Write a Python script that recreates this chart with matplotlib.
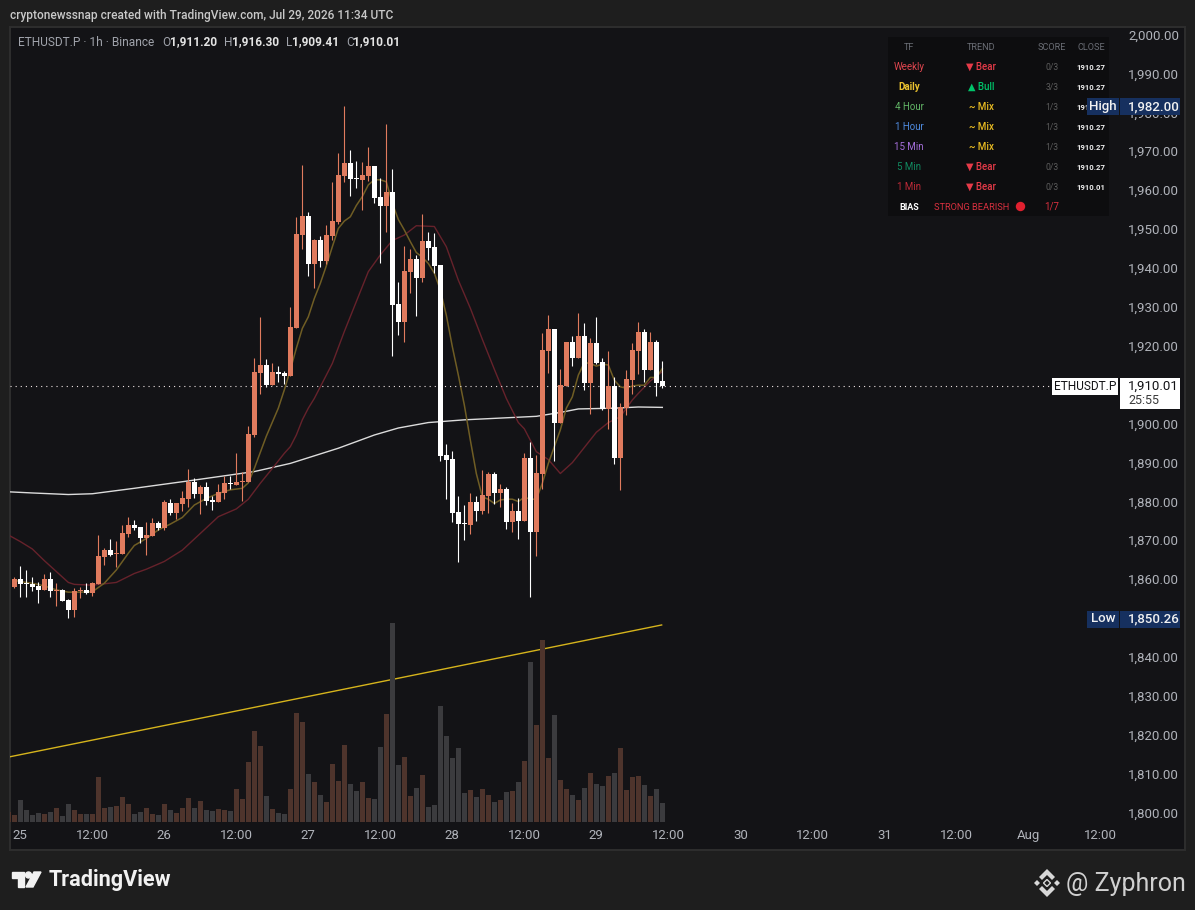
import matplotlib
matplotlib.use('Agg')
import matplotlib.pyplot as plt
from matplotlib.patches import Rectangle, Polygon, Circle
from matplotlib.transforms import ScaledTranslation

plt.rcParams['font.family'] = ['Roboto', 'DejaVu Sans']

# 1h candles
opens = [1858.2, 1860.3, 1859.3, 1859.0, 1858.5, 1857.5, 1860.3, 1857.2, 1857.5, 1854.9,
         1852.3, 1857.2, 1857.5, 1856.7, 1859.0, 1865.9, 1867.7, 1866.7, 1866.7, 1871.9,
         1874.2, 1873.7, 1870.8, 1871.3, 1874.7, 1873.4, 1879.8, 1877.3, 1879.6, 1880.9,
         1885.2, 1882.1, 1883.9, 1880.6, 1880.1, 1882.4, 1885.0, 1884.4, 1885.2, 1885.2,
         1897.3, 1913.2, 1915.3, 1910.2, 1913.5, 1913.2, 1912.5, 1924.8, 1948.7, 1953.6,
         1941.3, 1947.4, 1942.0, 1948.4, 1952.1, 1963.9, 1967.2, 1963.4, 1962.9, 1963.9,
         1966.5, 1958.5, 1956.2, 1959.8, 1931.0, 1926.4, 1939.2, 1942.6, 1937.7, 1947.2,
         1945.6, 1941.0, 1892.2, 1891.1, 1877.5, 1874.7, 1874.2, 1880.1, 1877.8, 1881.6,
         1887.3, 1882.4, 1883.4, 1874.9, 1877.8, 1875.2, 1891.4, 1872.4, 1887.3, 1918.9,
         1924.5, 1900.4, 1909.9, 1921.2, 1917.1, 1922.7, 1910.7, 1921.0, 1916.1, 1904.0,
         1909.9, 1891.4, 1904.2, 1911.4, 1918.9, 1923.8, 1914.0, 1921.2, 1911.20]
highs = [1860.8, 1863.6, 1862.6, 1860.8, 1859.5, 1861.6, 1862.1, 1859.3, 1857.7, 1855.1,
         1858.0, 1858.2, 1859.3, 1859.5, 1871.6, 1868.3, 1870.6, 1870.1, 1874.2, 1876.2,
         1875.5, 1873.7, 1874.9, 1876.0, 1875.2, 1880.6, 1880.9, 1879.8, 1882.9, 1888.6,
         1886.2, 1884.4, 1885.2, 1881.6, 1884.7, 1886.8, 1886.8, 1892.7, 1887.8, 1899.6,
         1917.1, 1927.6, 1916.8, 1915.8, 1915.0, 1913.8, 1930.2, 1953.3, 1966.7, 1954.6,
         1947.7, 1948.5, 1951.3, 1962.3, 1969.8, 1982.0, 1970.6, 1967.7, 1967.5, 1971.3,
         1966.5, 1963.4, 1977.2, 1965.7, 1936.6, 1945.9, 1945.1, 1943.6, 1954.1, 1949.5,
         1949.2, 1941.0, 1895.0, 1893.2, 1881.6, 1879.3, 1882.4, 1881.6, 1888.3, 1887.8,
         1887.8, 1884.7, 1883.9, 1879.8, 1881.1, 1892.7, 1895.5, 1892.2, 1923.5, 1928.1,
         1924.5, 1914.3, 1921.2, 1922.7, 1928.7, 1926.1, 1922.2, 1927.6, 1917.1, 1918.9,
         1912.2, 1905.5, 1914.0, 1921.0, 1926.3, 1924.5, 1923.8, 1921.7, 1916.30]
lows = [1858.0, 1855.7, 1855.7, 1857.2, 1854.1, 1857.5, 1855.7, 1853.3, 1854.6, 1850.26,
        1850.5, 1855.4, 1856.4, 1856.0, 1859.0, 1863.9, 1866.2, 1863.4, 1866.7, 1871.1,
        1872.9, 1869.5, 1866.5, 1871.3, 1872.9, 1872.9, 1876.7, 1875.7, 1877.8, 1878.8,
        1881.1, 1877.0, 1879.3, 1878.0, 1880.1, 1880.9, 1883.4, 1884.4, 1880.3, 1885.2,
        1896.9, 1907.8, 1909.6, 1910.2, 1910.9, 1910.4, 1912.5, 1924.8, 1945.1, 1938.2,
        1935.1, 1940.5, 1941.3, 1947.4, 1951.5, 1962.3, 1958.7, 1960.8, 1955.1, 1962.6,
        1956.9, 1941.5, 1949.5, 1917.6, 1923.0, 1921.2, 1933.8, 1927.9, 1936.6, 1942.3,
        1938.9, 1890.6, 1880.8, 1874.9, 1864.6, 1870.3, 1871.8, 1875.2, 1877.0, 1877.2,
        1879.6, 1878.8, 1873.1, 1872.4, 1870.6, 1875.2, 1855.6, 1866.2, 1883.4, 1913.2,
        1890.6, 1900.4, 1909.9, 1915.0, 1917.1, 1908.9, 1902.7, 1915.5, 1903.7, 1898.8,
        1889.8, 1883.2, 1902.4, 1907.8, 1913.0, 1910.9, 1914.0, 1907.3, 1909.41]
closes = [1860.3, 1859.0, 1859.0, 1858.2, 1857.5, 1860.3, 1857.2, 1857.5, 1854.6, 1852.3,
          1857.2, 1857.5, 1856.6, 1859.3, 1866.2, 1867.7, 1866.5, 1867.0, 1872.1, 1874.2,
          1873.4, 1870.8, 1871.6, 1874.7, 1873.4, 1880.1, 1877.3, 1879.8, 1881.1, 1885.2,
          1882.1, 1883.9, 1880.3, 1880.2, 1882.6, 1885.0, 1884.7, 1885.2, 1885.5, 1897.6,
          1913.5, 1915.3, 1910.2, 1913.5, 1913.0, 1912.5, 1925.1, 1949.0, 1953.6, 1941.3,
          1947.4, 1942.0, 1948.7, 1952.3, 1964.1, 1967.2, 1963.1, 1963.1, 1964.1, 1966.5,
          1958.2, 1956.2, 1959.8, 1930.7, 1926.4, 1939.5, 1942.6, 1937.7, 1947.2, 1945.4,
          1940.8, 1891.9, 1890.9, 1877.2, 1874.4, 1874.4, 1880.1, 1877.8, 1881.9, 1887.3,
          1882.4, 1883.4, 1874.9, 1877.8, 1875.2, 1891.4, 1872.4, 1887.5, 1919.1, 1924.5,
          1900.4, 1910.2, 1921.2, 1917.1, 1922.7, 1910.7, 1921.0, 1915.8, 1904.0, 1909.9,
          1891.4, 1904.5, 1911.7, 1919.1, 1923.8, 1914.0, 1921.2, 1910.7, 1910.01]
volumes = [20, 65, 35, 20, 26, 23, 29, 41, 17, 53,
           35, 23, 23, 23, 134, 41, 44, 47, 74, 53,
           23, 29, 41, 23, 20, 53, 35, 26, 41, 71,
           41, 62, 35, 32, 38, 35, 32, 98, 68, 179,
           272, 227, 77, 38, 26, 23, 98, 326, 299, 143,
           119, 80, 59, 173, 122, 230, 113, 92, 119, 71,
           68, 224, 323, 596, 170, 194, 77, 101, 140, 44,
           50, 347, 257, 191, 221, 86, 95, 74, 98, 80,
           59, 65, 89, 92, 119, 182, 479, 290, 545, 191,
           320, 125, 98, 80, 65, 101, 146, 113, 107, 137,
           146, 221, 95, 134, 137, 110, 77, 98, 56]
prev_volume = 30

# moving averages, points (bar index, price)
fast_idx = [0, 1, 3, 5, 7, 9, 11, 13, 15, 17, 19, 20, 22, 24, 26, 28, 30, 32, 34, 36, 38, 39, 40, 42, 44,
            45, 46, 47, 48, 49, 50, 51, 52, 53, 54, 55, 56, 57, 58, 59, 60, 61, 62, 63, 64, 65, 66, 67, 68, 69, 70, 71,
            72, 73, 74, 75, 76, 77, 78, 79, 80, 81, 82, 83, 84, 85, 86, 87, 88, 89, 90, 91, 92, 93, 94, 95, 96, 97,
            98, 99, 100, 101, 102, 103, 104, 105, 106, 107, 108]
fast_ma = [1860.0, 1859.6, 1859.2, 1858.5, 1857.5, 1856.9, 1856.9, 1857.0, 1859.2, 1862.6, 1866.9, 1868.9,
           1870.7, 1872.9, 1874.4, 1876.1, 1879.3, 1881.0, 1882.3, 1883.2, 1883.6, 1885.0, 1888.7, 1897.0, 1904.2,
           1908.9, 1914.0, 1919.6, 1924.7, 1927.7, 1932.4, 1936.3, 1940.8, 1945.7, 1950.4, 1952.3, 1953.4, 1956.3,
           1958.6, 1961.6, 1962.9, 1962.9, 1962.4, 1956.9, 1952.7, 1950.0, 1947.0, 1944.2, 1943.0, 1941.4, 1938.9,
           1934.6, 1928.1, 1920.0, 1912.7, 1905.0, 1896.0, 1887.4, 1881.4, 1880.8, 1879.7, 1880.6, 1880.8, 1880.8,
           1880.2, 1881.3, 1880.8, 1880.8, 1884.9, 1890.0, 1894.3, 1898.6, 1904.2, 1907.1, 1912.7, 1915.9, 1915.7,
           1915.0, 1915.5, 1915.3, 1911.4, 1909.7, 1909.3, 1909.9, 1910.1, 1910.1, 1912.1, 1912.1, 1914.4]
mid_idx = [-1, 1, 3, 5, 7, 9, 10, 13, 17, 20, 22, 25, 28, 31, 34, 37, 39, 41, 43, 45, 46, 47, 48, 49, 50,
           51, 53, 55, 57, 59, 61, 63, 65, 67, 70, 72, 74, 76, 78, 80, 82, 84, 85, 87, 89, 91, 93, 95, 97, 99,
           101, 103, 104, 106, 108]
mid_ma = [1871.6, 1869.9, 1868.0, 1865.0, 1862.2, 1859.4, 1858.9, 1858.7, 1859.4, 1861.7, 1862.8, 1864.8,
          1867.7, 1872.0, 1876.3, 1878.3, 1880.8, 1884.9, 1888.7, 1892.6, 1894.3, 1897.3, 1901.2, 1904.2, 1906.7,
          1909.7, 1915.7, 1923.9, 1931.6, 1939.3, 1943.6, 1947.3, 1948.7, 1951.1, 1950.9, 1945.7, 1937.1, 1929.9,
          1921.9, 1914.2, 1906.7, 1900.5, 1898.9, 1893.0, 1891.0, 1887.4, 1890.2, 1894.1, 1898.0, 1900.5, 1902.0,
          1906.3, 1908.0, 1911.2, 1913.6]
slow_idx = [-1, 3, 9, 13, 20, 29, 40, 46, 54, 60, 64, 69, 75, 83, 87, 91, 94, 100, 104, 108]
slow_ma = [1882.7, 1882.4, 1882.0, 1882.2, 1883.6, 1885.5, 1887.9, 1890.0, 1893.9, 1897.3, 1899.1, 1900.5,
           1901.2, 1901.8, 1902.1, 1903.1, 1904.0, 1904.2, 1904.5, 1904.4]
trend_idx = [-1, 108]
trend_val = [1814.5, 1848.5]

price_ticks = list(range(1800, 2001, 10))
time_idx = [1, 13, 25, 37, 49, 61, 73, 85, 97, 109, 121, 133, 145, 157, 169, 181]
time_labels = ['25', '12:00', '26', '12:00', '27', '12:00', '28', '12:00', '29', '12:00',
               '30', '12:00', '31', '12:00', 'Aug', '12:00']

last_price = 1910.01
tf_names = ['Weekly', 'Daily', '4 Hour', '1 Hour', '15 Min', '5 Min', '1 Min']
tf_trend = ['▼ Bear', '▲ Bull', '~ Mix', '~ Mix', '~ Mix', '▼ Bear', '▼ Bear']
tf_score = ['0/3', '3/3', '1/3', '1/3', '1/3', '0/3', '0/3']
tf_close = ['1910.27', '1910.27', '1910.27', '1910.27', '1910.27', '1910.27', '1910.01']
tf_colors = ['#e0464f', '#eac22f', '#62b566', '#4f8be0', '#a66fdc', '#118a60', '#bd2a38']
trend_colors = {'▼ Bear': '#e63b49', '▲ Bull': '#00c46a', '~ Mix': '#e8bb22'}

UP = '#e07b5e'
DOWN = '#ffffff'
UP_VOL = '#4e342c'
DOWN_VOL = '#3b3b3e'
BG = '#1e1e1e'
PANE = '#131316'
W, H = 1195, 910

fig = plt.figure(figsize=(W / 100, H / 100), dpi=100, facecolor=BG)


def pane_axes(zorder):
    # all three layers cover the same pixels: x 10..1120, y 28..822
    a = fig.add_axes([10 / W, 1 - 822 / H, 1110 / W, 794 / H], zorder=zorder)
    a.patch.set_visible(False)
    a.set_xlim((10 - 14.33) / 6, (1120 - 14.33) / 6)
    for s in a.spines.values():
        s.set_visible(False)
    return a


# frame behind everything, pixel coordinates
back = fig.add_axes([0, 0, 1, 1], zorder=0)
back.set_xlim(0, W)
back.set_ylim(H, 0)
back.axis('off')
back.add_patch(Rectangle((10, 27), 1175, 823, facecolor=PANE, edgecolor='#2e2e2e', linewidth=1.4))

ylim = (2000 - (822 - 35.5) / 3.89, 2000 + (35.5 - 28) / 3.89)

ax_trend = pane_axes(1)
ax_trend.set_ylim(ylim)
ax_trend.axis('off')
ax_trend.plot(trend_idx, trend_val, color='#d6b41c', lw=1.0, solid_capstyle='butt')

ax_vol = pane_axes(2)
ax_vol.set_ylim(0, 794 * 3)
ax_vol.axis('off')
idx = list(range(len(opens)))
vol_colors = [UP_VOL if c >= o else DOWN_VOL for o, c in zip(opens, closes)]
ax_vol.bar(idx, volumes, width=5 / 6, color=vol_colors, linewidth=0)
ax_vol.bar([-1], [prev_volume], width=5 / 6, color=UP_VOL, linewidth=0)

ax = pane_axes(3)
ax.set_ylim(ylim)
ax.plot(slow_idx, slow_ma, color='#dcdcdc', lw=1.0, zorder=2)
ax.plot(mid_idx, mid_ma, color='#66222b', lw=1.0, zorder=2)
ax.plot(fast_idx, fast_ma, color='#6f5d24', lw=1.1, zorder=2)
ax.hlines(last_price, (10 - 14.33) / 6, (1052 - 14.33) / 6, color='#eee4e4', lw=0.8, linestyles=(0, (1, 3.6)), zorder=2)

colors = [UP if c >= o else DOWN for o, c in zip(opens, closes)]
ax.vlines(idx, lows, highs, colors=colors, lw=0.8, zorder=3)
ax.bar(idx, [abs(c - o) for o, c in zip(opens, closes)], bottom=[min(o, c) for o, c in zip(opens, closes)],
       width=5 / 6, color=colors, linewidth=0, zorder=4)

ax.yaxis.tick_right()
ax.set_yticks(price_ticks)
ax.set_yticklabels([f'{p:,.2f}' for p in price_ticks], fontsize=9.5, color='#b0b3ba')
ax.set_xticks(time_idx)
ax.set_xticklabels(time_labels, fontsize=9.5, color='#b0b3ba')
ax.tick_params(axis='both', length=0)
ax.tick_params(axis='y', pad=6)
ax.tick_params(axis='x', pad=5)
# labels sit a pixel higher in the reference
up_1px = ScaledTranslation(0, 1 / 100, fig.dpi_scale_trans)
for t in ax.get_yticklabels():
    t.set_transform(t.get_transform() + up_1px)

# everything on top of the chart, pixel coordinates
top = fig.add_axes([0, 0, 1, 1], zorder=5)
top.set_xlim(0, W)
top.set_ylim(H, 0)
top.axis('off')
top.patch.set_visible(False)


def label(x, y, s, color='#d1d4dc', size=8, ha='left', weight='normal', zorder=3):
    top.text(x, y, s, color=color, fontsize=size, ha=ha, va='center', fontweight=weight, zorder=zorder)


label(10, 15, 'cryptonewssnap created with TradingView.com, Jul 29, 2026 11:34 UTC', '#c9c9c9', 8.6, weight='medium')
label(18, 42, 'ETHUSDT.P · 1h · Binance', '#a0a3ab', 8.6)
for x, key, val, gap in [(162, 'O', '1,911.20', 8), (224, 'H', '1,916.30', 8), (286, 'L', '1,909.41', 6.5), (346, 'C', '1,910.01', 7)]:
    label(x, 42, key, '#a0a3ab', 8.6)
    label(x + gap, 42, val, '#e4e4e4', 8.6, weight='bold')

# status table
top.add_patch(Rectangle((888, 37), 221, 179, facecolor='#0d0d0f', edgecolor='none'))
for x, head in [(909, 'TF'), (981, 'TREND'), (1052, 'SCORE'), (1091, 'CLOSE')]:
    label(x, 47, head, '#6a6d75', 6.6, 'center')
for i in range(len(tf_names)):
    y = 67 + 20 * i
    bold = 'bold' if tf_names[i] == 'Daily' else 'normal'
    label(909, y, tf_names[i], tf_colors[i], 7, 'center', bold)
    label(981.5, y, tf_trend[i], trend_colors[tf_trend[i]], 7, 'center', 'medium')
    label(1052, y, tf_score[i], '#5c5c5c', 6.2, 'center')
    label(1091, y, tf_close[i], '#f0f0f0', 5.6, 'center', 'bold')
label(909, 207, 'BIAS', '#ffffff', 6.5, 'center', 'bold')
label(934, 207, 'STRONG BEARISH', '#d9303f', 6.7)
top.add_patch(Circle((1020.5, 206.5), 4.7, facecolor='#e0202f', edgecolor='none'))
label(1052, 207, '1/7', '#d9303f', 7, 'center')

# price scale tags, above the table text
for y0, name, val in [(98, 'High', '1,982.00'), (610.5, 'Low', '1,850.26')]:
    top.add_patch(Rectangle((1087, y0), 32, 17, facecolor='#16305f', edgecolor='none', zorder=4))
    top.add_patch(Rectangle((1120, y0), 60, 17, facecolor='#16305f', edgecolor='none', zorder=4))
    label(1103, y0 + 8.5, name, '#f2f2f2', 9.5, 'center', 'medium', zorder=5)
    label(1128, y0 + 8.5, val, '#f2f2f2', 9.5, weight='medium', zorder=5)
top.add_patch(Rectangle((1052, 378), 66, 17, facecolor='#ffffff', edgecolor='none', zorder=4))
top.add_patch(Rectangle((1120, 378), 60, 31, facecolor='#ffffff', edgecolor='none', zorder=4))
label(1085, 386.5, 'ETHUSDT.P', '#131316', 8.6, 'center', zorder=5)
label(1128, 386.5, '1,910.01', '#131316', 9.5, zorder=5)
label(1128, 400, '25:55', '#3a3a3a', 9, zorder=5)

# TradingView logo
top.add_patch(Polygon([(12, 872), (24, 872), (24, 887), (18, 887), (18, 878), (12, 878)], color='#f2f2f2'))
top.add_patch(Circle((28.5, 875), 3, color='#f2f2f2'))
top.add_patch(Polygon([(34, 872), (41, 872), (33, 887), (26, 887)], color='#f2f2f2'))
label(49, 880, 'TradingView', '#f2f2f2', 15.6, weight='bold')

# Zyphron mark
for pts in [[(1047, 869), (1055, 877), (1052, 880), (1047, 875), (1042, 880), (1039, 877)],
            [(1047, 897), (1055, 889), (1052, 886), (1047, 891), (1042, 886), (1039, 889)],
            [(1037, 880), (1040, 883), (1037, 886), (1034, 883)],
            [(1057, 880), (1060, 883), (1057, 886), (1054, 883)]]:
    top.add_patch(Polygon(pts, facecolor='#d8d8d8', edgecolor='none'))
top.add_patch(Polygon([(1047, 879.5), (1050.5, 883), (1047, 886.5), (1043.5, 883)], facecolor='none', edgecolor='#d8d8d8', lw=1.0))
label(1066, 884, '@ Zyphron', '#d0d0d0', 18, weight='normal')

fig.savefig('out.png', dpi=100, facecolor=BG)
